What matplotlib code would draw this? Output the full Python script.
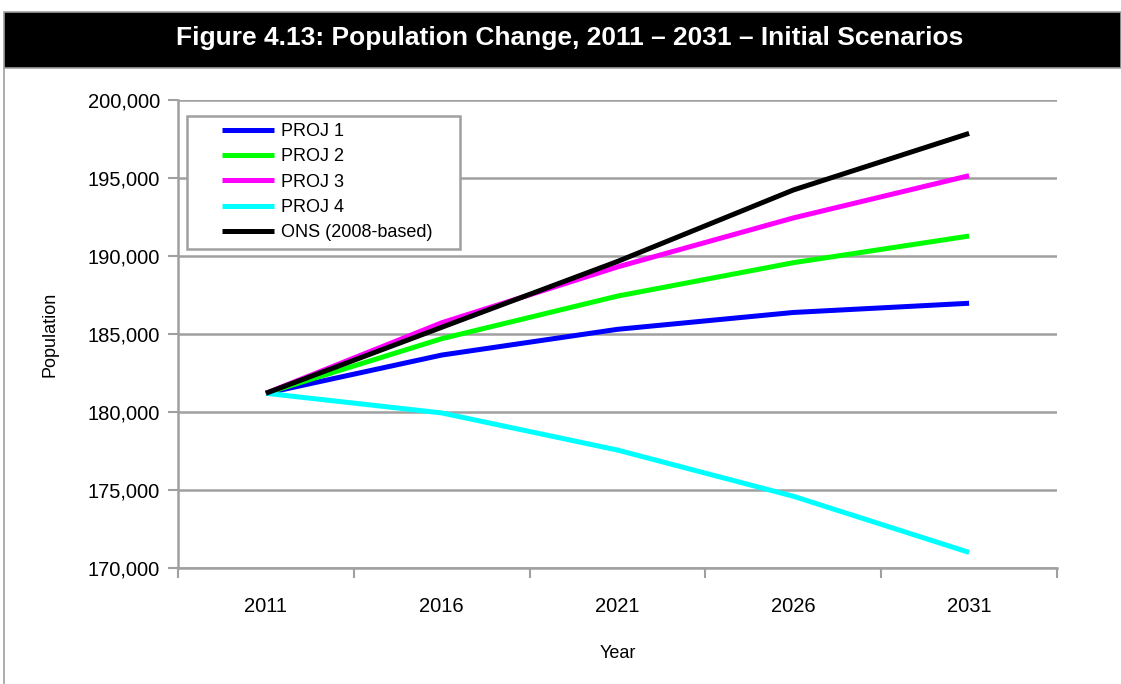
import matplotlib
matplotlib.use("Agg")
import matplotlib.pyplot as plt
from matplotlib.patches import Rectangle
from matplotlib.lines import Line2D
from matplotlib.ticker import FuncFormatter

# Daten
years = ["2011", "2016", "2021", "2026", "2031"]
proj1 = [181200, 183650, 185300, 186380, 186970]
proj2 = [181200, 184700, 187430, 189570, 191280]
proj3 = [181200, 185720, 189300, 192440, 195150]
proj4 = [181200, 179940, 177560, 174600, 171000]
ons = [181200, 185430, 189650, 194230, 197860]

series_names = ["PROJ 1", "PROJ 2", "PROJ 3", "PROJ 4", "ONS (2008-based)"]
series_values = [proj1, proj2, proj3, proj4, ons]
series_colors = ["#0000FF", "#00FF00", "#FF00FF", "#00FFFF", "#000000"]

title = "Figure 4.13: Population Change, 2011 \u2013 2031 \u2013 Initial Scenarios"
font = ["Liberation Sans", "DejaVu Sans"]
grey = "#A0A0A0"

W, H = 1121, 684
fig = plt.figure(figsize=(W / 100, H / 100), dpi=100)

# Kopfzeile (schwarzer Balken) und Rahmen
fig.patches.append(Rectangle((4 / W, 1 - 68 / H), 1 - 4 / W, 56 / H,
                             transform=fig.transFigure, facecolor="black",
                             edgecolor=grey, linewidth=1.2, zorder=0))
fig.lines.append(Line2D([4 / W, 4 / W], [0, 1 - 68 / H], transform=fig.transFigure,
                        color=grey, linewidth=1.2))
fig.text(570 / W, 1 - 38 / H, title, color="white", fontsize=19, fontweight="bold",
         family=font, ha="center", va="center")

# Diagrammfläche
x0, x1, y0, y1 = 178, 1057, 100, 568
ax = fig.add_axes([x0 / W, 1 - y1 / H, (x1 - x0) / W, (y1 - y0) / H])
x = list(range(len(years)))
for name, vals, col in zip(series_names, series_values, series_colors):
    ax.plot(x, vals, color=col, linewidth=3.6, label=name, solid_capstyle="butt")

ax.set_xlim(-0.5, len(years) - 0.5)
ax.set_ylim(170000, 200000)
ax.set_yticks(range(170000, 200001, 5000))
ax.yaxis.set_major_formatter(FuncFormatter(lambda v, p: f"{int(v):,}"))
ax.set_xticks(x)
ax.set_xticklabels(years)
ax.set_xticks([i - 0.5 for i in range(len(years) + 1)], minor=True)
ax.tick_params(axis="x", which="major", length=0, pad=21, labelsize=14.5)
ax.tick_params(axis="x", which="minor", length=7, width=1.5, color=grey)
ax.tick_params(axis="y", length=7, width=1.5, color=grey, labelsize=14.5, pad=6)
for lab in ax.get_xticklabels() + ax.get_yticklabels():
    lab.set_family(font)

ax.grid(axis="y", color=grey, linewidth=1.8)
ax.set_axisbelow(True)
for side in ["top", "right"]:
    ax.spines[side].set_visible(False)
for side in ["left", "bottom"]:
    ax.spines[side].set_color(grey)
    ax.spines[side].set_linewidth(1.8)

fig.text(50 / W, 1 - 334 / H, "Population", rotation=90, ha="center", va="center",
         fontsize=13, family=font)
fig.text(618 / W, 1 - 653 / H, "Year", ha="center", va="center", fontsize=13, family=font)

# Legende: Rahmen separat, Einträge ohne Rahmen
def ax_frac(px, py):
    return (px - x0) / (x1 - x0), 1 - (py - y0) / (y1 - y0)

lx, ly = ax_frac(187, 249)
rx, ry = ax_frac(460, 116)
ax.add_patch(Rectangle((lx, ly), rx - lx, ry - ly, transform=ax.transAxes,
                       facecolor="white", edgecolor=grey, linewidth=1.8, zorder=5))
leg = ax.legend(loc="upper left", bbox_to_anchor=ax_frac(222, 123),
                frameon=False, borderpad=0, borderaxespad=0,
                handlelength=2.9, handletextpad=0.35, labelspacing=0.46,
                prop={"family": font, "size": 13})
leg.set_zorder(6)

fig.savefig("out.png", dpi=100)
